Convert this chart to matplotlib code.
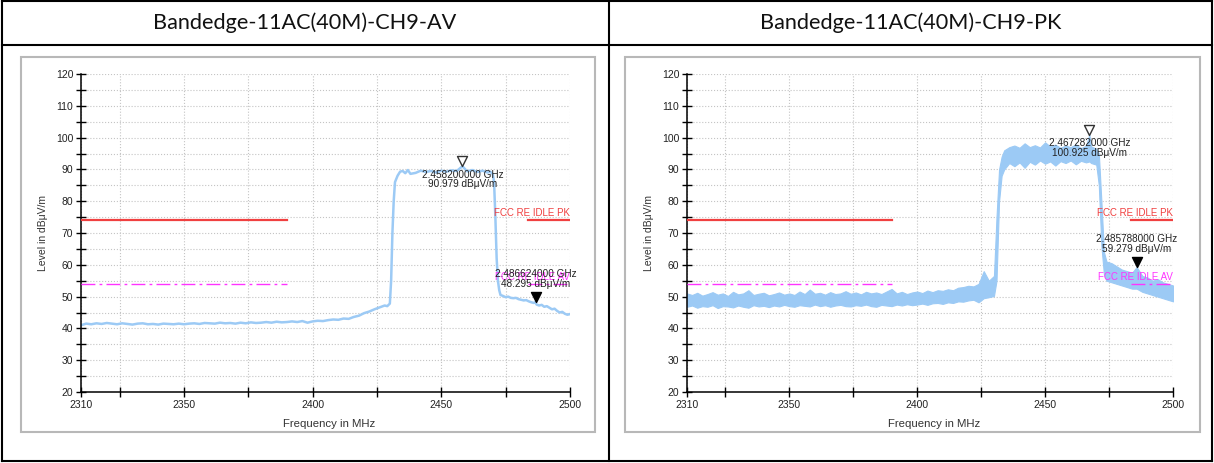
import matplotlib.pyplot as plt
from matplotlib.lines import Line2D
from matplotlib.patches import Rectangle
from matplotlib.path import Path

plt.rcParams['font.family'] = ['Liberation Sans', 'DejaVu Sans']

# ---- data ----
titles = ["Bandedge-11AC(40M)-CH9-AV", "Bandedge-11AC(40M)-CH9-PK"]

# average detector trace (left)
av_freq = [2310, 2312, 2314, 2316, 2318, 2320, 2322, 2324, 2326, 2328,
           2330, 2332, 2334, 2336, 2338, 2340, 2342, 2344, 2346, 2348,
           2350, 2352, 2354, 2356, 2358, 2360, 2362, 2364, 2366, 2368,
           2370, 2372, 2374, 2376, 2378, 2380, 2382, 2384, 2386, 2388,
           2390, 2392, 2394, 2396, 2398, 2400, 2402, 2404, 2406, 2408,
           2410, 2412, 2414, 2416, 2418, 2420, 2422, 2424, 2426, 2428,
           2429, 2430, 2430.5, 2431, 2431.5, 2432, 2433, 2434, 2435, 2436,
           2437, 2438, 2440, 2442, 2444, 2446, 2448, 2450, 2452, 2454,
           2456, 2458.2, 2460, 2462, 2464, 2466, 2468, 2469, 2470, 2470.5,
           2471, 2471.5, 2472, 2472.5, 2473, 2474, 2475, 2476, 2477, 2478,
           2479, 2480, 2481, 2482, 2483, 2484, 2485, 2486, 2486.6, 2487,
           2488, 2489, 2490, 2491, 2492, 2493, 2494, 2495, 2496, 2497,
           2498, 2499, 2500]
av_level = [41.0, 41.5, 41.3, 41.6, 41.4, 41.7, 41.5, 41.3, 41.6, 41.4,
            41.2, 41.5, 41.6, 41.3, 41.4, 41.2, 41.5, 41.4, 41.3, 41.5,
            41.3, 41.5, 41.6, 41.4, 41.7, 41.6, 41.5, 41.8, 41.6, 41.7,
            41.5, 41.8, 41.6, 41.9, 41.7, 41.8, 42.0, 41.8, 42.1, 41.9,
            42.0, 42.2, 42.0, 42.3, 41.8, 42.2, 42.4, 42.3, 42.6, 42.8,
            42.7, 43.1, 43.0, 43.6, 44.0, 44.8, 45.3, 46.0, 46.6, 47.2,
            47.0, 47.8, 55.0, 70.0, 80.0, 86.0, 88.0, 89.3, 89.5, 88.8,
            89.8, 88.6, 88.9, 89.6, 89.2, 89.5, 89.0, 89.6, 89.3, 89.7,
            89.5, 91.0, 89.4, 89.8, 89.2, 89.6, 89.0, 89.3, 88.5, 86.0,
            75.0, 62.0, 55.0, 52.0, 50.5, 50.2, 49.8, 50.0, 49.6, 49.5,
            49.6, 49.2, 49.0, 48.8, 48.9, 48.5, 48.2, 48.0, 48.3, 47.5,
            47.2, 47.4, 46.8, 47.0, 46.5, 46.0, 46.2, 45.5, 45.0, 45.2,
            44.6, 44.3, 44.5]

# peak detector trace (right), drawn as the band between upper / lower envelope
pk_freq = [2310, 2312, 2314, 2316, 2318, 2320, 2322, 2324, 2326, 2328,
           2330, 2332, 2334, 2336, 2338, 2340, 2342, 2344, 2346, 2348,
           2350, 2352, 2354, 2356, 2358, 2360, 2362, 2364, 2366, 2368,
           2370, 2372, 2374, 2376, 2378, 2380, 2382, 2384, 2386, 2388,
           2390, 2392, 2394, 2396, 2398, 2400, 2402, 2404, 2406, 2408,
           2410, 2412, 2414, 2416, 2418, 2420, 2422, 2424, 2426, 2428,
           2430, 2431, 2432, 2433, 2434, 2436, 2438, 2440, 2442, 2444,
           2446, 2448, 2450, 2452, 2454, 2456, 2458, 2460, 2462, 2464,
           2466, 2467.3, 2468, 2470, 2471, 2472, 2473, 2474, 2476, 2478,
           2480, 2482, 2484, 2485.8, 2488, 2490, 2492, 2494, 2496, 2498,
           2500]
pk_hi = [51.0, 50.5, 51.2, 50.3, 50.8, 51.4, 50.6, 51.0, 50.2, 51.5,
         50.7, 51.0, 52.0, 50.5, 50.9, 51.2, 50.4, 50.8, 51.3, 50.6,
         51.0, 50.5, 51.6, 50.8, 52.2, 50.9, 51.2, 50.6, 51.4, 50.8,
         51.0, 51.7, 50.9, 51.3, 50.7, 51.5, 51.0, 51.3, 50.8, 51.6,
         52.4, 51.0, 51.5, 50.8, 51.3, 51.6, 51.1, 51.9, 51.4, 52.0,
         51.8, 52.3, 52.0, 52.8, 53.0, 53.4, 53.2, 54.0, 58.0, 55.0,
         56.5, 75.0, 90.0, 94.0, 96.0, 97.0, 97.5, 96.8, 98.2, 97.0,
         97.6, 96.9, 98.5, 97.2, 97.8, 96.8, 97.5, 97.0, 97.9, 96.7,
         97.4, 100.9, 97.2, 96.5, 95.0, 80.0, 64.0, 61.0, 60.5, 59.5,
         58.5, 58.0, 57.5, 59.3, 56.5, 56.0, 55.0, 55.5, 54.5, 54.0,
         53.5]
pk_lo = [46.8, 47.2, 46.5, 47.0, 46.8, 47.3, 46.4, 47.0, 46.9, 46.6,
         47.2, 46.8, 46.5, 47.3, 46.9, 47.1, 46.7, 47.2, 46.9, 47.4,
         47.0, 46.8, 47.3, 47.1, 46.9, 47.5, 47.0, 47.3, 46.8, 47.2,
         47.4, 47.0, 46.9, 47.3, 47.1, 47.5, 47.0, 46.8, 47.4, 47.2,
         47.0, 47.5, 47.2, 47.6, 47.3, 47.5, 47.8, 47.4, 47.9, 48.0,
         47.7, 48.2, 48.0, 48.5, 48.4, 48.8, 49.0, 48.2, 49.5, 49.8,
         50.2, 55.0, 80.0, 88.0, 90.0, 92.0, 91.0, 92.2, 90.5, 92.4,
         91.5, 92.8, 91.8, 92.5, 91.2, 92.6, 92.0, 92.8, 91.6, 92.7,
         92.2, 92.5, 92.0, 91.5, 85.0, 66.0, 57.0, 55.0, 54.5, 54.0,
         53.5, 53.0, 52.5, 52.5, 51.5, 51.0, 50.5, 50.0, 49.5, 49.0,
         48.5]

# limit lines (restricted bands) and their levels
limit_spans = [(2310, 2390), (2483.5, 2500)]
pk_limit = 74
av_limit = 54

# markers: (freq MHz, level, label)
av_markers = [(2458.2, 90.979, "2.458200000 GHz\n90.979 dBμV/m"),
              (2486.624, 48.295, "2.486624000 GHz\n48.295 dBμV/m")]
pk_markers = [(2467.282, 100.925, "2.467282000 GHz\n100.925 dBμV/m"),
              (2485.788, 59.279, "2.485788000 GHz\n59.279 dBμV/m")]

x_major = [2310, 2350, 2400, 2450, 2500]
x_minor = [2325, 2375, 2425, 2475]

W, H = 1214, 463
fig = plt.figure(figsize=(W / 100, H / 100), dpi=100)

# triangle with its tip on the data point
tri = Path([(-0.5, 1.0), (0.5, 1.0), (0.0, 0.0), (-0.5, 1.0)], closed=True)

trace_c = '#9ccaf5'
red_c = '#f04040'
mag_c = '#ff33ff'


def px_box(x0, y0, x1, y1):
    return [x0 / W, 1 - y1 / H, (x1 - x0) / W, (y1 - y0) / H]


def setup(ax):
    ax.set_xlim(2310, 2500)
    ax.set_ylim(20, 120)
    ax.set_xticks(x_major)
    ax.set_xticks(x_minor, minor=True)
    ax.set_yticks(range(20, 121, 10))
    ax.set_yticks(range(25, 120, 10), minor=True)
    ax.tick_params(which='both', direction='inout', length=7, width=1,
                   labelsize=7.5, labelcolor='#222222', pad=2)
    ax.grid(which='both', ls=':', color='#c4c4c4', lw=0.8)
    for s in ['top', 'right']:
        ax.spines[s].set_visible(False)
    for s in ['left', 'bottom']:
        ax.spines[s].set_linewidth(1.1)
    ax.set_xlabel('Frequency in MHz', fontsize=8.2, color='#333333')
    ax.set_ylabel('Level in dBμV/m', fontsize=7.5, color='#333333')
    ax.xaxis.set_label_coords(0.508, -0.086)
    ax.yaxis.set_label_coords(-0.068, 0.5)
    for a, b in limit_spans:
        ax.plot([a, b], [pk_limit, pk_limit], color=red_c, lw=1.6, zorder=3)
        ax.plot([a, b], [av_limit, av_limit], color=mag_c, lw=1.0,
                ls=(0, (10, 3, 2, 3)), zorder=3)
    ax.annotate('FCC RE IDLE PK', (2500, pk_limit), xytext=(0, 2),
                textcoords='offset points', ha='right', va='bottom',
                fontsize=7, color=red_c, zorder=5)
    ax.annotate('FCC RE IDLE AV', (2500, av_limit), xytext=(0, 1),
                textcoords='offset points', ha='right', va='bottom',
                fontsize=7, color=mag_c, zorder=5)


def add_markers(ax, markers):
    (f1, l1, t1), (f2, l2, t2) = markers
    ax.plot([f1], [l1], marker=tri, ms=14.4, mfc='none', mec='#333333',
            mew=1, ls='none', zorder=6, clip_on=False)
    ax.annotate(t1, (f1, l1), xytext=(0, -2.5), textcoords='offset points',
                ha='center', va='top', fontsize=7.2, linespacing=0.95,
                color='#222222', zorder=6)
    ax.plot([f2], [l2], marker=tri, ms=14.4, mfc='black', mec='black',
            mew=1, ls='none', zorder=6, clip_on=False)
    ax.annotate(t2, (f2, l2), xytext=(0, 9.5), textcoords='offset points',
                ha='center', va='bottom', fontsize=7.2, linespacing=0.95,
                color='#222222', zorder=6)


ax1 = fig.add_axes(px_box(81, 74, 570, 392))
setup(ax1)
ax1.plot(av_freq, av_level, color=trace_c, lw=1.8, zorder=2)
add_markers(ax1, av_markers)

ax2 = fig.add_axes(px_box(687, 74, 1173, 392))
setup(ax2)
ax2.fill_between(pk_freq, pk_lo, pk_hi, color=trace_c, lw=0.8,
                 edgecolor=trace_c, zorder=2)
add_markers(ax2, pk_markers)

# chart image frames
for x0, x1 in [(21, 595), (625, 1200)]:
    fig.add_artist(Rectangle((x0 / W, 1 - 432 / H), (x1 - x0) / W, (432 - 57) / H,
                             transform=fig.transFigure, fill=False,
                             edgecolor='#b8b8b8', lw=1.5, zorder=0))

# table grid
lines = [((2, 2), (1, 461)), ((609, 609), (1, 461)), ((1212, 1212), (1, 461)),
         ((2, 1212), (1, 1)), ((2, 1212), (45, 45)), ((2, 1212), (461, 461))]
for xs, ys in lines:
    fig.add_artist(Line2D([x / W for x in xs], [1 - y / H for y in ys],
                          transform=fig.transFigure, color='black', lw=1.5))

fig.text(305 / W, 1 - 23 / H, titles[0], ha='center', va='center',
         fontsize=15.6, family=['Lato', 'DejaVu Sans'], color='#111111')
fig.text(911 / W, 1 - 23 / H, titles[1], ha='center', va='center',
         fontsize=15.6, family=['Lato', 'DejaVu Sans'], color='#111111')

fig.savefig('out.png', dpi=100)
